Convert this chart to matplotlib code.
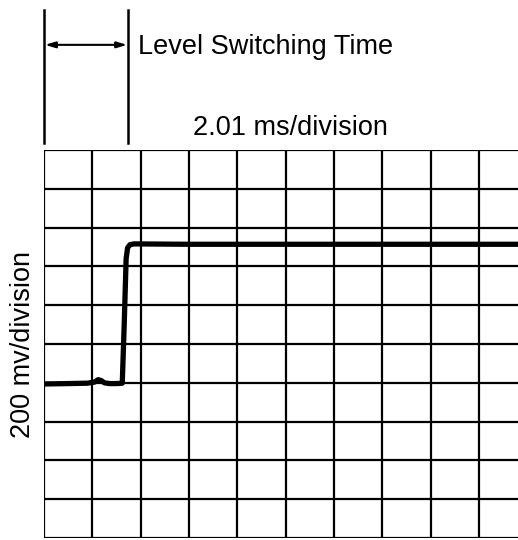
import matplotlib
matplotlib.use("Agg")
import matplotlib.pyplot as plt
import matplotlib.transforms as mtransforms

# ---- data (in scope divisions) ----
trace_x = [0.0, 0.5, 0.9, 1.05, 1.12, 1.18, 1.25, 1.35, 1.5, 1.62, 1.66, 1.70, 1.73, 1.78, 1.86, 3.0, 6.0, 9.81]
trace_y = [3.97, 3.98, 3.99, 4.02, 4.08, 4.06, 4.0, 3.98, 3.98, 3.99, 5.5, 7.2, 7.48, 7.56, 7.58, 7.57, 7.57, 7.57]
n_xdiv = 10
n_ydiv = 10
x_view = 9.81
switch_start = 0.0
switch_end = 1.74
x_label = "2.01 ms/division"
y_label = "200 mv/division"
annot_label = "Level Switching Time"

fam = ["Liberation Sans", "DejaVu Sans"]

fig = plt.figure(figsize=(5.18, 5.40), dpi=100)
ax = fig.add_axes([44/518, 2/540, 474/518, 388/540])
ax.set_xlim(0, x_view)
ax.set_ylim(0, n_ydiv)

for i in range(n_xdiv + 1):
    ax.axvline(i, color="black", lw=1.6, zorder=1)
for j in range(n_ydiv + 1):
    ax.axhline(j, color="black", lw=1.6, zorder=1)

ax.plot(trace_x, trace_y, color="black", lw=3.8, solid_joinstyle="round", zorder=3)

ax.set_xticks([])
ax.set_yticks([])
for s in ax.spines.values():
    s.set_visible(False)

fkw = dict(fontsize=19.5, family=fam)
ax.set_ylabel(y_label, labelpad=6, **fkw)

tr = mtransforms.blended_transform_factory(ax.transData, ax.transAxes)
for xv in (switch_start, switch_end):
    ax.plot([xv, xv], [1.018, 1.361], color="black", lw=1.8, transform=tr, clip_on=False)
ax.annotate("", xy=(switch_start + 0.02, 1.271), xytext=(switch_end - 0.02, 1.271),
            xycoords=tr, textcoords=tr,
            arrowprops=dict(arrowstyle="<|-|>,head_length=0.6,head_width=0.18",
                            color="black", lw=1.5, shrinkA=0, shrinkB=0))
ax.text(1.95, 1.265, annot_label, transform=tr, ha="left", va="center", **fkw)
ax.text(5.1, 1.057, x_label, transform=tr, ha="center", va="center", **fkw)

fig.savefig("out.png", dpi=100)
